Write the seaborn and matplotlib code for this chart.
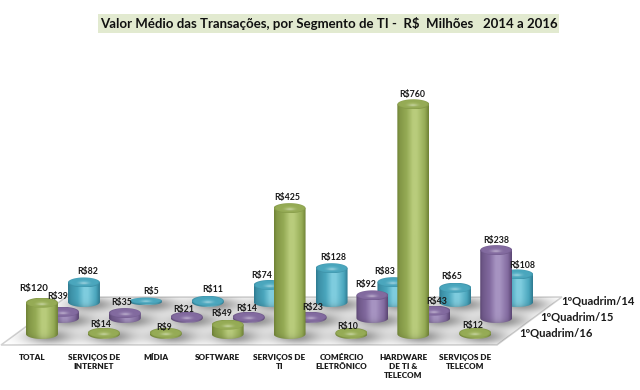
import numpy as np
import pandas as pd
import matplotlib
matplotlib.use("Agg")
import matplotlib.pyplot as plt
import seaborn as sns
from matplotlib.colors import to_rgb
from matplotlib.patches import Polygon, Rectangle
from matplotlib.path import Path
from matplotlib.transforms import ScaledTranslation

# Data

segmentos = ["TOTAL", "SERVIÇOS DE\nINTERNET", "MÍDIA", "SOFTWARE", "SERVIÇOS DE\nTI",
             "COMÉRCIO\nELETRÔNICO", "HARDWARE\nDE TI &\nTELECOM", "SERVIÇOS DE\nTELECOM"]
valores_14 = [82, 5, 11, 74, 128, 83, 65, 108]
valores_15 = [39, 35, 21, 14, 23, 92, 43, 238]
valores_16 = [120, 14, 9, 49, 425, 10, 760, 12]
series = ["1ºQuadrim/14", "1ºQuadrim/15", "1ºQuadrim/16"]
titulo = "Valor Médio das Transações, por Segmento de TI -  R$  Milhões   2014 a 2016"

# Label nudges in pixels, the source chart places them by hand
dx_14 = [4, 5, 5, -8, 2, -9, -4, 5]
dx_15 = [-5, -3, -3, -2, 2, -7, 2, 0]
dx_16 = [-8, -3, -2, -6, -2, -4, -1, -3]
dy_14 = [6, 6, 6, 4, 6, 6, 6, 4]
dy_15 = [10, 6, 3, 3, 4, 6, 4, 5]
dy_16 = [9, 3, 0, 6, 6, 1, 5, 2]

# Layout in pixels of the 640x390 picture

W, H = 640, 390
PASSO = 61.9
LARG = 32
RY = 5
ESCALA = 0.31
BASE = 19
ALT_EIXO = 262

cores = {
    "1ºQuadrim/14": ("#2F7A90", "#4AA6BD", "#7FCDDF"),
    "1ºQuadrim/15": ("#5B4673", "#826A9F", "#A794C2"),
    "1ºQuadrim/16": ("#6F8236", "#95AB55", "#B9CC7C"),
}

sns.set_theme(style="white")
plt.rcParams["font.family"] = ["Lato", "DejaVu Sans"]
fig = plt.figure(figsize=(W / 100, H / 100), dpi=100)


def fig_rect(x, y_base):
    return [x / W, (H - y_base) / H, 8 * PASSO / W, ALT_EIXO / H]


def corpo(esc, med, cla, altura_px):
    u = np.linspace(0, 1, 80)
    cols = []
    for a, b, c in zip(esc, med, cla):
        cols.append(np.interp(u, [0, 0.08, 0.3, 0.5, 0.62, 0.88, 1], [a, (a + b) / 2, b, c, c, b, a]))
    linha = np.stack(cols, axis=-1)
    n = max(int(altura_px), 2)
    t = np.linspace(0, altura_px, n)
    fator = (1 - 0.15 * np.exp(-t / 3))[::-1]
    img = linha[None, :, :] * fator[:, None, None]
    return np.clip(img, 0, 1)


def tampa(esc, med, cla):
    u, v = np.meshgrid(np.linspace(-1, 1, 80), np.linspace(-1, 1, 40))
    r = np.sqrt(u**2 + v**2)
    aro = tuple((a + b) / 2 for a, b in zip(esc, med))
    img = np.zeros(r.shape + (3,))
    for k in range(3):
        img[..., k] = np.interp(r, [0, 0.5, 0.9, 1], [(cla[k] + med[k]) / 2, med[k], med[k], aro[k]])
    # brilho claro no meio da tampa
    brilho = np.exp(-((u / 0.3) ** 2 + ((v - 0.25) / 0.22) ** 2))
    img = img + (1 - img) * 0.4 * brilho[..., None]
    return np.clip(img, 0, 1)


def elipse_path(cx, cy, rx, ry):
    th = np.linspace(0, 2 * np.pi, 60)
    return Path(np.column_stack([cx + rx * np.cos(th), cy + ry * np.sin(th)]))


def cilindros(ax, cor):
    esc, med, cla = [to_rgb(c) for c in cor]
    for bar in ax.patches:
        x0, w = bar.get_x(), bar.get_width()
        val = bar.get_height()
        cx = x0 + w / 2
        ry_px = min(RY, 0.65 * val)
        ry = ry_px / ESCALA
        topo = max(val, BASE + 1.2 / ESCALA)
        rx = w / 2
        # silhueta: meia elipse de baixo + retangulo
        th = np.linspace(np.pi, 2 * np.pi, 40)
        baixo = np.column_stack([cx + rx * np.cos(th), BASE + ry * np.sin(th)])
        sil = Path(np.vstack([baixo, [x0 + w, topo], [x0, topo], baixo[0]]))
        alt_px = (topo - BASE) * ESCALA + ry_px
        im = ax.imshow(corpo(esc, med, cla, alt_px), extent=[x0, x0 + w, BASE - ry, topo],
                       aspect="auto", origin="upper", interpolation="bilinear")
        im.set_clip_box(fig.bbox)
        im.set_clip_path(sil, ax.transData)
        cap = ax.imshow(tampa(esc, med, cla), extent=[x0, x0 + w, topo - ry, topo + ry],
                        aspect="auto", origin="upper", interpolation="bilinear")
        cap.set_clip_box(fig.bbox)
        cap.set_clip_path(elipse_path(cx, topo, rx, ry), ax.transData)
        bar.set_visible(False)
    ax.set_xlim(-0.5, 7.5)
    ax.set_ylim(BASE, BASE + ALT_EIXO / ESCALA)


# Floor, shadows go on it

ax_chao = fig.add_axes([0, 0, 1, 1], zorder=0)
ax_chao.set_xlim(0, W)
ax_chao.set_ylim(H, 0)
ax_chao.set_axis_off()
chao = Polygon([(1, 345), (497, 345), (562, 297), (66, 297)], closed=True,
               facecolor="white", edgecolor="#D2D2D2", lw=1.1)
ax_chao.add_patch(chao)

linhas = [
    (valores_14, series[0], 11 + 42, 302, dx_14, dy_14),
    (valores_15, series[1], 11 + 21, 318, dx_15, dy_15),
    (valores_16, series[2], 11, 334, dx_16, dy_16),
]

xx, yy = np.meshgrid(np.arange(W), np.arange(H))
sombra = np.zeros((H, W))

for z, (valores, nome, x_px, y_px, dx, dy) in enumerate(linhas):
    ax = fig.add_axes(fig_rect(x_px, y_px), zorder=z + 1)
    tab = pd.DataFrame({"segmento": segmentos, "valor": valores})
    sns.barplot(data=tab, x="segmento", y="valor", color=cores[nome][1], saturation=1,
                width=LARG / PASSO, ax=ax)
    ax.set_xlabel("")
    ax.set_ylabel("")
    ax.patch.set_alpha(0)
    sns.despine(ax=ax, left=True, bottom=True)
    ax.set_yticks([])
    cilindros(ax, cores[nome])

    if z == 2:
        ax.tick_params(axis="x", length=0, pad=14.5)
        desloc = ScaledTranslation(-10 / 100, 0, fig.dpi_scale_trans)
        for tick in ax.get_xticklabels():
            tick.set_fontsize(5.9)
            tick.set_fontweight("heavy")
            tick.set_color("#1A1A1A")
            tick.set_linespacing(1.3)
            tick.set_transform(tick.get_transform() + desloc)
    else:
        ax.set_xticks([])

    for i, v in enumerate(valores):
        px = ax.transData.transform((i, max(v, BASE)))
        cx, cy = px[0], H - px[1]
        # sombra suave em volta da base
        sombra += 0.42 * np.exp(-(((xx - cx - 7) / 24.0) ** 2 + ((yy - y_px - 2) / 7.5) ** 2))
        ry_px = min(RY, 0.65 * v)
        topo_px = cy - (1.2 if v <= BASE else 0) - ry_px
        fig.text((cx + dx[i]) / W, (H - topo_px + dy[i]) / H, "R$%d" % v,
                 ha="center", va="center", fontsize=7 if v == 120 else 6.3,
                 fontweight="bold", color="#1A1A1A", zorder=10)

    # nome da serie a direita
    fig.text((x_px + 8 * PASSO + 13) / W, (H - y_px + 1) / H, nome, ha="left", va="center",
             fontsize=8.1, fontweight="bold", color="#1A1A1A", zorder=10)

rgba = np.zeros((H, W, 4))
rgba[..., 3] = np.clip(sombra, 0, 0.5)
im_sombra = ax_chao.imshow(rgba, extent=[0, W, H, 0], aspect="auto", zorder=1, origin="upper")
im_sombra.set_clip_path(chao)
ax_chao.set_xlim(0, W)
ax_chao.set_ylim(H, 0)

# Title with its green band

fig.add_artist(Rectangle((98 / W, 1 - 33 / H), 461 / W, 19 / H, transform=fig.transFigure,
                         facecolor="#E2EAD0", edgecolor="none", zorder=9))
fig.text(328.5 / W, 1 - 24 / H, titulo, ha="center", va="center", fontsize=9.5,
         fontweight="bold", color="#111111", zorder=10)

fig.savefig("out.png", dpi=100)
